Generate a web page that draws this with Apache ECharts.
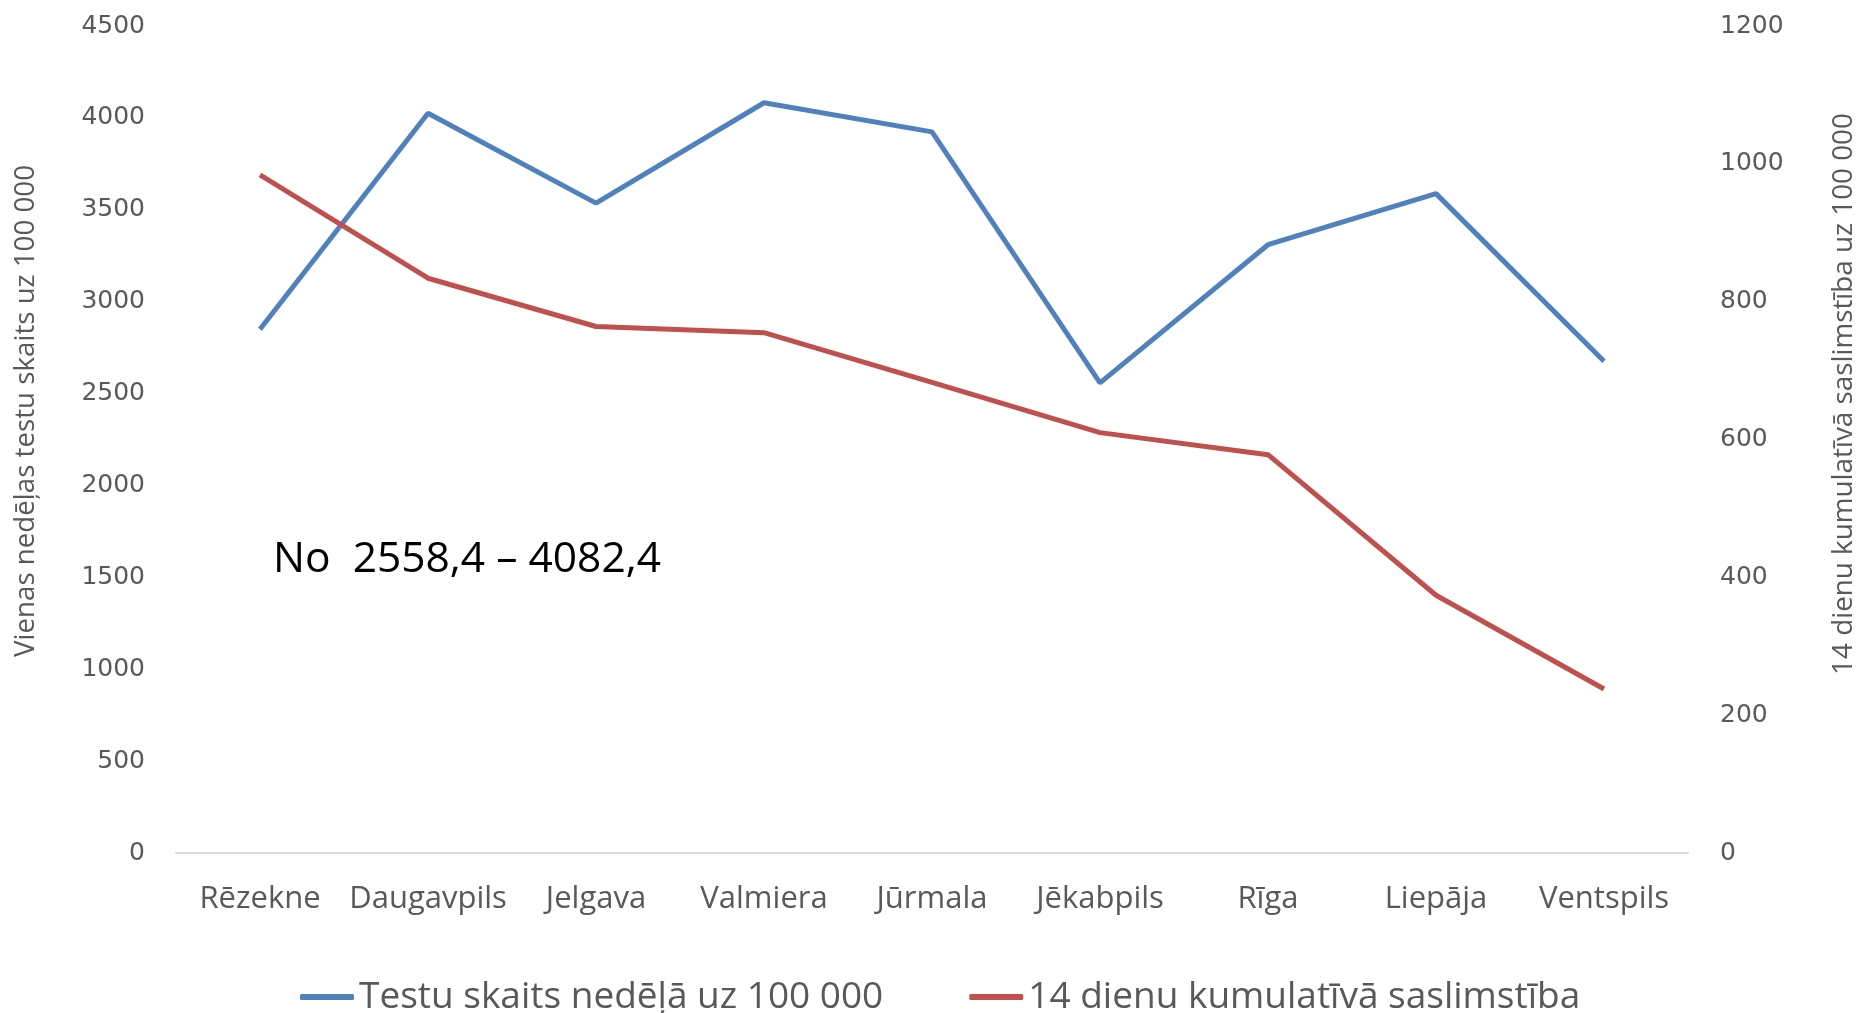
<!DOCTYPE html>
<html>
<head>
<meta charset="utf-8">
<script src="https://cdn.jsdelivr.net/npm/echarts@6/dist/echarts.min.js"></script>
<style>
  html, body { margin: 0; padding: 0; background: #fff; }
  #chart { width: 1863px; height: 1013px; }
</style>
</head>
<body>
<div id="chart"></div>
<script>
var cities = ['Rēzekne', 'Daugavpils', 'Jelgava', 'Valmiera', 'Jūrmala', 'Jēkabpils', 'Rīga', 'Liepāja', 'Ventspils'];
var testsPerWeek = [2850, 4025, 3536, 4082.4, 3924, 2558.4, 3310, 3588, 2676];   // kreisā ass
var cumulative14 = [984, 834, 764, 755, 683, 610, 578, 374, 238];                // labā ass

var seriesNames = ['Testu skaits nedēļā uz 100 000', '14 dienu kumulatīvā saslimstība'];
var leftTitle = 'Vienas nedēļas testu skaits uz 100 000';
var rightTitle = '14 dienu kumulatīvā saslimstība uz 100 000';
var note = 'No  2558,4 – 4082,4';

var txt = '#595959';
var font = 'Open Sans';

var myChart = echarts.init(document.getElementById('chart'));

myChart.setOption({
    animation: false,
    grid: { left: 176, right: 175, top: 26, bottom: 160 },
    legend: {
        left: 295,
        top: 970,
        itemGap: 86,
        itemWidth: 54,
        itemHeight: 6,
        icon: 'roundRect',
        textStyle: { fontFamily: font, fontSize: 37, color: txt, lineHeight: 44 },
        data: seriesNames
    },
    xAxis: {
        type: 'category',
        data: cities,
        axisLine: { lineStyle: { color: '#d9d9d9', width: 2 } },
        axisTick: { show: false },
        axisLabel: { interval: 0, fontFamily: font, fontSize: 31, color: txt, margin: 31 }
    },
    yAxis: [
        {
            type: 'value',
            min: 0, max: 4500, interval: 500,
            splitLine: { show: false },
            axisLine: { show: false },
            axisTick: { show: false },
            axisLabel: {
                fontFamily: 'DejaVu Sans', fontSize: 25, color: txt, margin: 31,
                formatter: function (v) { return String(v); }
            }
        },
        {
            type: 'value',
            min: 0, max: 1200, interval: 200,
            splitLine: { show: false },
            axisLine: { show: false },
            axisTick: { show: false },
            axisLabel: {
                fontFamily: 'DejaVu Sans', fontSize: 25, color: txt, margin: 32,
                formatter: function (v) { return String(v); }
            }
        }
    ],
    graphic: [
        {   // kreisās ass nosaukums
            type: 'text', x: 26, y: 411, rotation: Math.PI / 2,
            style: { text: leftTitle, fontFamily: font, fontSize: 27.7, fill: txt, align: 'center', verticalAlign: 'middle' }
        },
        {   // labās ass nosaukums
            type: 'text', x: 1844, y: 394, rotation: Math.PI / 2,
            style: { text: rightTitle, fontFamily: font, fontSize: 27.8, fill: txt, align: 'center', verticalAlign: 'middle' }
        },
        {
            type: 'text', x: 273, y: 560,
            style: { text: note, fontFamily: font, fontSize: 42.5, fill: '#000', align: 'left', verticalAlign: 'middle' }
        }
    ],
    series: [
        {
            name: seriesNames[0],
            type: 'line',
            yAxisIndex: 0,
            data: testsPerWeek,
            symbol: 'none',
            lineStyle: { color: '#4F81BD', width: 5 },
            itemStyle: { color: '#4F81BD' }
        },
        {
            name: seriesNames[1],
            type: 'line',
            yAxisIndex: 1,
            data: cumulative14,
            symbol: 'none',
            lineStyle: { color: '#C0504D', width: 5 },
            itemStyle: { color: '#C0504D' }
        }
    ]
});
</script>
</body>
</html>
